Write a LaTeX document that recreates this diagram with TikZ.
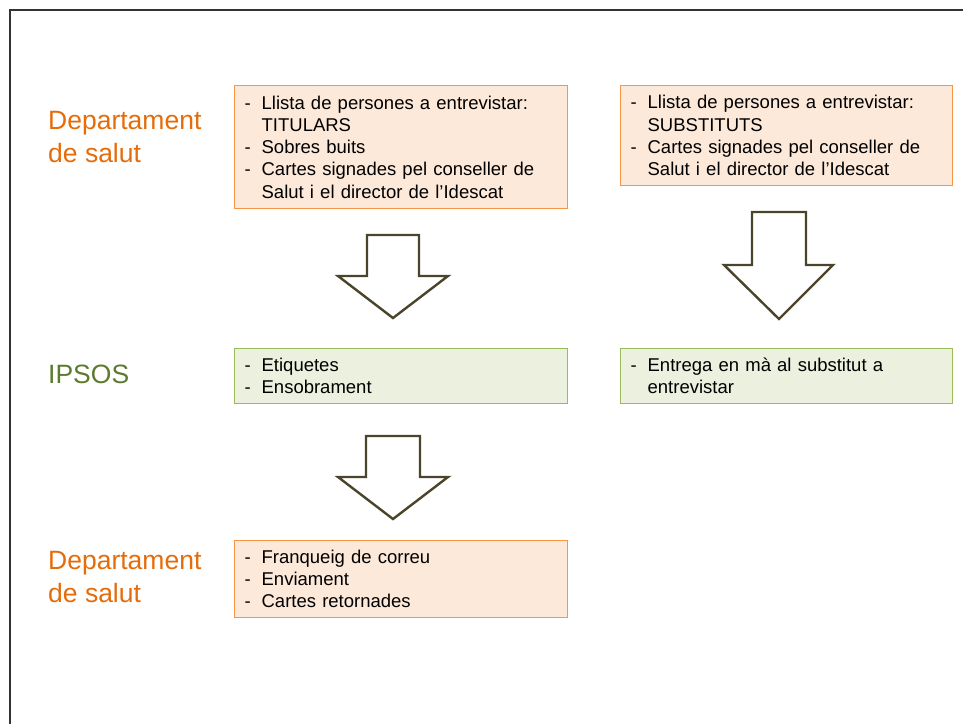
\documentclass[tikz,border=0pt]{standalone}
\usepackage{fontspec}
\setmainfont{Liberation Sans}
\definecolor{orngline}{HTML}{F79646}
\definecolor{orngfill}{HTML}{FDE9D9}
\definecolor{grnline}{HTML}{9BBB59}
\definecolor{grnfill}{HTML}{EBF1DE}
\definecolor{arrline}{HTML}{4A452A}
\definecolor{orngtext}{HTML}{E46C0A}
\definecolor{grntext}{HTML}{5E7A2E}
\newcommand{\bitem}[1]{\makebox[17pt][l]{-}#1}
\newcommand{\bcont}[1]{\hspace*{17pt}#1}
\begin{document}
\begin{tikzpicture}[x=1pt,y=-1pt,
  boxbase/.style={font=\fontsize{18.5}{22.2}\selectfont, align=left, text width=313pt,
    inner xsep=10pt, inner ysep=0pt, anchor=north west, line width=1.3pt},
  obox/.style={boxbase, draw=orngline, fill=orngfill},
  gbox/.style={boxbase, draw=grnline, fill=grnfill},
  lbl/.style={font=\fontsize{26.5}{32.5}\selectfont, align=left, anchor=base west, inner sep=0pt},
  blockarrow/.style={draw=arrline, fill=white, line width=2.4pt, line join=miter}]
\useasboundingbox (0,0) rectangle (963,724);
\draw[line width=1.6pt, black!80] (10,724) -- (10,10) -- (963,10);

\node[lbl, text=orngtext] (d1) at (48,162) {Departament\\de salut};
\node[lbl, text=grntext] (ip) at (48,383) {IPSOS};
\node[lbl, text=orngtext] (d2) at (48,602) {Departament\\de salut};

\node[obox, minimum height=123pt] (t1) at (234,85) {\bitem{Llista de persones a entrevistar:}\\\bcont{TITULARS}\\\bitem{Sobres buits}\\\bitem{Cartes signades pel conseller de}\\\bcont{Salut i el director de l’Idescat}};
\node[obox, minimum height=100pt, text width=312pt] (s1) at (620,85) {\bitem{Llista de persones a entrevistar:}\\\bcont{SUBSTITUTS}\\\bitem{Cartes signades pel conseller de}\\\bcont{Salut i el director de l’Idescat}};

\node[gbox, minimum height=55pt] (t2) at (234,348) {\bitem{Etiquetes}\\\bitem{Ensobrament}};
\node[gbox, minimum height=55pt, text width=312pt] (s2) at (620,348) {\bitem{Entrega en mà al substitut a}\\\bcont{entrevistar}};

\node[obox, minimum height=77pt] (t3) at (234,540) {\bitem{Franqueig de correu}\\\bitem{Enviament}\\\bitem{Cartes retornades}};

\draw[blockarrow] (367,235) -- (419,235) -- (419,276) -- (448,276) -- (393,318) -- (338,276) -- (367,276) -- cycle;
\draw[blockarrow] (752,212) -- (806,212) -- (806,265) -- (833,265) -- (779,319) -- (724,265) -- (752,265) -- cycle;
\draw[blockarrow] (366,436) -- (420,436) -- (420,477) -- (448,477) -- (393,519) -- (338,477) -- (366,477) -- cycle;
\end{tikzpicture}
\end{document}
